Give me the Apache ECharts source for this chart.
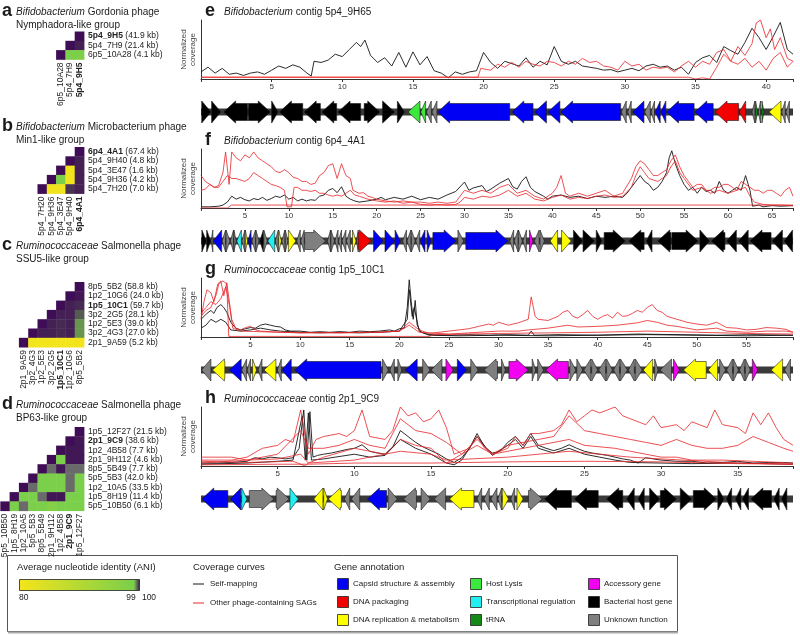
<!DOCTYPE html>
<html><head><meta charset="utf-8">
<script src="https://cdn.jsdelivr.net/npm/echarts@6/dist/echarts.min.js"></script>
<style>html,body{margin:0;padding:0;background:#fff}#c{width:800px;height:635px}</style>
</head><body><div id="c"></div><script>
const FONT = 'Liberation Sans, Arial, Helvetica, sans-serif';
const NA = 0; // no ANI value (grey cell)

// ---------- Heatmap data (rows listed top -> bottom, values from diagonal to the right) ----------
const aNames = ['5p4_9H5','5p4_7H9','6p5_10A28'];
const aSizes = [41.9,21.4,4.1];
const aFocal = '5p4_9H5';
const aANI = [[100],[100,99.9],[100,98.8,98.6]];

const bNames = ['6p4_4A1','5p4_9H40','5p4_3E47','5p4_9H36','5p4_7H20'];
const bSizes = [67.4,4.8,1.6,4.2,7.0];
const bFocal = '6p4_4A1';
const bANI = [[100],[100,99.9],[100,80.8,99.9],[100,98.7,80.8,99.9],[100,80.6,80.9,99.8,99.9]];

const cNames = ['8p5_5B2','1p2_10G6','1p5_10C1','3p2_2G5','1p2_5E3','3p2_4G3','2p1_9A59'];
const cSizes = [58.8,24.0,59.7,28.1,39.0,27.0,5.2];
const cFocal = '1p5_10C1';
const cANI = [[100],[100,99.95],[100,99.9,99.85],[100,99.9,99.9,99.6],[100,99.9,99.85,99.9,99.3],
  [100,99.9,99.9,99.85,99.9,99.3],[100,80.3,80.3,80.3,80.3,80.3,80.5]];

const dNames = ['1p5_12F27','2p1_9C9','1p2_4B58','2p1_9H112','8p5_5B49','5p5_5B3','1p2_10A5','1p5_8H19','5p5_10B50'];
const dSizes = [21.5,38.6,7.7,4.6,7.7,42.0,33.5,11.4,6.1];
const dFocal = '2p1_9C9';
const dANI = [[100],[100,99.95],[100,99.95,99.95],[100,98.9,99.95,99.95],[100,NA,99.95,NA,NA],
  [100,98.9,98.9,98.9,NA,98.9],[100,NA,98.9,98.9,98.9,NA,98.9],[100,98.9,98.9,NA,99.95,99.95,98.9,98.9],
  [100,98.9,NA,98.9,98.9,97.5,98.9,98.9,98.9]];

// ---------- Contig lengths (kb) ----------
const eLen = 41.9, fLen = 67.4, gLen = 59.7, hLen = 38.6;

// ---------- Coverage curves [kb, normalized coverage] ----------
const eBlack = [[0,0.12],[0.5,0.2],[1,0.1],[1.5,0.18],[2,0.08],[2.5,0.1],[3,0.06],[3.5,0.1],[4,0.12],[4.5,0.08],[5,0.15],[5.5,0.22],[6,0.18],[6.5,0.24],[7,0.2],[7.5,0.1],[7.8,0.05],[8,0.3],[8.5,0.28],[9,0.32],[9.5,0.42],[10,0.38],[10.5,0.5],[11,0.62],[11.3,0.55],[11.6,0.66],[12,0.4],[12.5,0.28],[13,0.36],[13.5,0.22],[14,0.45],[14.5,0.2],[15,0.46],[15.5,0.24],[16,0.38],[16.5,0.14],[17,0.1],[17.5,0.02],[18,0.12],[18.5,0.08],[19,0.12],[19.5,0.14],[20,0.45],[20.5,0.28],[21,0.18],[21.5,0.3],[22,0.26],[22.5,0.22],[23,0.36],[23.5,0.2],[24,0.3],[24.5,0.24],[25,0.55],[25.5,0.3],[26,0.25],[26.5,0.3],[27,0.22],[27.5,0.2],[28,0.18],[28.5,0.15],[29,0.16],[29.5,0.12],[30,0.15],[30.5,0.18],[31,0.14],[31.5,0.22],[32,0.25],[32.5,0.2],[33,0.22],[33.5,0.15],[34,0.2],[34.5,0.08],[35,0.28],[35.5,0.36],[36,0.4],[36.5,0.28],[37,0.55],[37.5,0.48],[38,0.42],[38.5,0.62],[39,0.86],[39.5,0.7],[40,0.5],[40.5,0.72],[41,0.96],[41.5,0.5],[41.9,0.42]];
const eRed1 = [[0,0.03],[19.6,0.03],[19.8,0.18],[20.5,0.15],[21,0.25],[21.5,0.2],[22,0.28],[22.5,0.2],[23,0.3],[23.5,0.25],[24,0.22],[24.5,0.3],[25,0.28],[25.5,0.22],[26,0.3],[26.5,0.25],[27,0.35],[27.5,0.28],[28,0.3],[28.5,0.22],[29,0.2],[29.5,0.15],[30,0.3],[30.5,0.22],[31,0.25],[31.5,0.15],[32,0.2],[32.5,0.18],[33,0.2],[33.5,0.12],[34,0.22],[34.5,0.3],[35,0.2],[35.5,0.3],[36,0.25],[36.5,0.45],[37,0.5],[37.5,0.3],[38,0.55],[38.5,0.4],[39,0.6],[39.3,0.95],[39.6,1.0],[40,0.7],[40.3,0.85],[40.6,0.5],[41,0.7],[41.5,0.35],[41.9,0.3]];
const eRed2 = [[0,0.03],[34.5,0.03],[35,0.0],[35.5,0.02],[36,0.0],[36.5,0.2],[37,0.42],[37.5,0.3],[38,0.25],[38.5,0.35],[39,0.2],[39.5,0.3],[40,0.15],[40.5,0.35],[41,0.45],[41.5,0.2],[41.9,0.3]];

const fBlack = [[0,0.02],[1,0.02],[2,0.03],[2.5,0.05],[3,0.1],[3.5,0.2],[4,0.15],[4.5,0.18],[5,0.14],[5.5,0.12],[6,0.16],[6.5,0.14],[7,0.18],[7.5,0.13],[8,0.16],[8.5,0.2],[9,0.18],[9.5,0.22],[10,0.15],[10.5,0.18],[11,0.12],[11.5,0.15],[12,0.12],[12.5,0.14],[13,0.13],[13.5,0.2],[14,0.22],[14.5,0.3],[15,0.33],[15.5,0.26],[16,0.36],[16.5,0.2],[17,0.15],[17.5,0.12],[18,0.1],[19,0.12],[20,0.15],[20.5,0.18],[21,0.14],[22,0.18],[23,0.15],[24,0.2],[25,0.14],[26,0.18],[27,0.15],[28,0.22],[29,0.28],[30,0.44],[30.5,0.3],[31,0.34],[32,0.38],[32.5,0.28],[33,0.32],[34,0.42],[35,0.5],[35.5,0.36],[36,0.32],[36.5,0.45],[37,0.53],[37.5,0.35],[38,0.28],[39,0.2],[39.5,0.15],[40,0.2],[41,0.22],[42,0.18],[43,0.2],[44,0.16],[45,0.2],[46,0.18],[47,0.2],[48,0.18],[48.5,0.25],[49,0.35],[49.5,0.45],[50,0.55],[50.5,0.45],[51,0.4],[51.5,0.3],[52,0.35],[52.5,0.45],[53,0.6],[53.3,0.85],[53.6,0.97],[54,0.75],[54.5,0.55],[55,0.4],[55.5,0.3],[56,0.35],[56.5,0.25],[57,0.35],[57.5,0.28],[58,0.3],[58.5,0.25],[59,0.45],[59.5,0.3],[60,0.25],[60.5,0.3],[61,0.35],[61.5,0.3],[62,0.55],[62.5,0.3],[62.8,0.03],[63.5,0.05],[64,0.02],[65,0.04],[66,0.03],[67.4,0.04]];
const fRed1 = [[0,0.55],[0.5,0.45],[1,0.4],[1.5,0.35],[2,0.38],[2.5,0.6],[2.8,0.95],[3.2,0.4],[3.5,0.95],[4,0.85],[4.5,0.8],[5,0.9],[5.5,0.85],[6,0.95],[6.5,0.85],[7,0.8],[7.5,0.75],[8,0.7],[8.5,0.62],[9,0.6],[9.5,0.65],[10,0.6],[10.5,0.52],[11,0.5],[11.5,0.45],[12,0.45],[12.5,0.4],[13,0.42],[13.5,0.55],[14,0.6],[14.5,0.72],[15,0.75],[15.5,0.5],[16,0.75],[16.5,0.55],[17,0.5],[17.3,0.3],[18,0.25],[18.5,0.26],[19,0.2],[19.5,0.18],[20,0.15],[21,0.12],[22,0.1],[23,0.12],[24,0.1],[25,0.1],[26,0.08],[27,0.1],[28,0.08],[29,0.1],[29.5,0.2],[30,0.3],[31,0.25],[32,0.3],[33,0.25],[34,0.35],[35,0.4],[36,0.25],[37,0.3],[38,0.2],[39,0.15],[40,0.25],[40.5,0.35],[41,0.55],[41.5,0.25],[42,0.2],[43,0.25],[44,0.2],[45,0.25],[46,0.3],[47,0.2],[48,0.25],[49,0.5],[49.5,0.7],[50,0.8],[50.5,0.75],[51,0.65],[51.5,0.55],[52,0.55],[52.5,0.6],[53,0.65],[53.5,0.8],[54,0.9],[54.5,0.7],[55,0.55],[55.5,0.45],[56,0.35],[56.5,0.4],[57,0.4],[57.5,0.3],[58,0.3],[58.5,0.35],[59,0.35],[59.5,0.4],[60,0.4],[60.5,0.35],[61,0.3],[61.5,0.45],[62,0.4],[62.5,0.35],[63,0.3],[63.5,0.3],[64,0.25],[64.5,0.3],[65,0.3],[65.5,0.25],[66,0.2],[66.5,0.3],[67,0.35],[67.4,0.2]];
const fRed2 = [[0,0.3],[0.5,0.32],[1,0.4],[1.5,0.35],[2,0.35],[2.5,0.45],[3,0.55],[3.5,0.5],[4,0.5],[5,0.45],[5.5,0.5],[6,0.6],[6.5,0.55],[7,0.5],[7.5,0.45],[8,0.4],[8.5,0.38],[9,0.35],[9.5,0.3],[9.8,0.02],[10.3,0.02],[10.6,0.35],[11,0.35],[11.5,0.3],[12,0.3],[12.5,0.28],[13,0.3],[13.5,0.25],[14,0.25],[14.5,0.22],[15,0.2],[15.5,0.22],[16,0.2],[16.5,0.25],[17,0.3],[17.5,0.22],[18,0.2],[19,0.15],[20,0.12],[21,0.1],[22,0.12],[23,0.08],[24,0.1],[25,0.06],[26,0.05],[27,0.06],[28,0.05],[29,0.06],[29.5,0.1],[30,0.18],[31,0.15],[32,0.2],[33,0.18],[34,0.22],[35,0.3],[36,0.2],[37,0.25],[38,0.15],[39,0.12],[40,0.18],[41,0.22],[42,0.15],[43,0.18],[44,0.16],[45,0.2],[46,0.22],[47,0.18],[48,0.2],[49,0.35],[49.5,0.55],[50,0.7],[50.5,0.6],[51,0.5],[52,0.45],[53,0.55],[53.5,0.7],[54,0.8],[54.5,0.6],[55,0.5],[56,0.3],[57,0.35],[58,0.25],[59,0.3],[60,0.25],[61,0.3],[62,0.35],[62.5,0.2],[63,0.1],[64,0.06],[65,0.05],[66,0.05],[67.4,0.04]];
const fRed3 = [[0,0.0],[3,0.0],[3.5,0.05],[67.4,0.05]];

const gBlack1 = [[0,0.3],[0.3,0.35],[0.6,0.4],[1,0.45],[1.3,0.4],[1.6,0.5],[2,0.55],[2.3,0.5],[2.6,0.42],[3,0.25],[3.5,0.15],[4,0.12],[4.5,0.14],[5,0.16],[5.5,0.15],[6,0.2],[6.5,0.22],[7,0.2],[7.5,0.18],[8,0.17],[8.5,0.12],[9,0.1],[10,0.1],[11,0.08],[12,0.09],[13,0.08],[14,0.09],[15,0.08],[16,0.1],[17,0.09],[18,0.1],[19,0.12],[19.5,0.1],[20,0.14],[20.5,0.15],[20.8,0.5],[21,0.97],[21.2,0.6],[21.4,0.3],[21.6,0.62],[21.8,0.2],[22.2,0.08],[23,0.04],[25,0.03],[27,0.04],[29,0.03],[31,0.04],[33,0.03],[33.3,0.1],[33.6,0.03],[36,0.04],[40,0.03],[44,0.05],[48,0.04],[52,0.03],[56,0.04],[59.7,0.03]];
const gBlack2 = [[0,0.15],[0.5,0.2],[1,0.3],[1.5,0.25],[2,0.3],[2.5,0.25],[3,0.12],[4,0.1],[5,0.12],[6,0.15],[7,0.12],[8,0.1],[10,0.08],[12,0.07],[14,0.08],[16,0.07],[18,0.08],[20,0.1],[20.8,0.3],[21,0.8],[21.3,0.35],[21.5,0.5],[22,0.1],[23,0.03],[26,0.02],[30,0.03],[35,0.02],[40,0.03],[45,0.04],[50,0.03],[55,0.02],[59.7,0.03]];
const gRed1 = [[0,0.3],[0.3,0.6],[0.6,0.8],[1,0.75],[1.3,0.6],[1.7,0.9],[2,0.95],[2.3,0.7],[2.6,0.92],[2.8,0.95],[3.1,0.3],[3.5,0.15],[4,0.12],[4.5,0.16],[5,0.18],[5.5,0.12],[6,0.1],[7,0.09],[8,0.08],[9,0.08],[10,0.07],[12,0.08],[14,0.07],[16,0.08],[18,0.08],[20,0.1],[21,0.25],[22,0.12],[23,0.06],[24,0.08],[25,0.1],[26,0.12],[27,0.14],[28,0.18],[29,0.22],[29.5,0.2],[30,0.25],[31,0.2],[32,0.24],[33,0.3],[33.3,0.68],[33.7,0.35],[34,0.3],[35,0.28],[36,0.35],[36.5,0.42],[37,0.45],[37.5,0.35],[38,0.32],[38.5,0.38],[39,0.45],[39.5,0.35],[40,0.3],[40.5,0.35],[41,0.38],[41.5,0.32],[42,0.42],[42.5,0.35],[43,0.36],[43.5,0.4],[44,0.45],[44.5,0.42],[45,0.5],[45.5,0.55],[46,0.45],[46.5,0.42],[47,0.35],[48,0.3],[49,0.25],[50,0.22],[51,0.2],[52,0.25],[53,0.16],[54,0.15],[55,0.12],[56,0.13],[57,0.16],[58,0.15],[59,0.13],[59.7,0.08]];
const gRed2 = [[0,0.4],[0.5,0.5],[1,0.6],[1.5,0.55],[2,0.65],[2.5,0.85],[2.9,0.5],[3.2,0.15],[4,0.1],[6,0.09],[8,0.08],[10,0.07],[14,0.07],[18,0.08],[20,0.1],[21,0.2],[22,0.08],[25,0.05],[27,0.07],[30,0.1],[32,0.1],[33,0.12],[35,0.15],[37,0.2],[38,0.17],[40,0.18],[42,0.2],[44,0.24],[45,0.28],[46,0.25],[47,0.2],[48,0.18],[50,0.12],[52,0.15],[53,0.1],[55,0.08],[57,0.1],[59,0.1],[59.7,0.08]];
const gRed3 = [[0,0.35],[0.5,0.45],[1,0.5],[1.5,0.7],[1.8,0.9],[2.2,0.95],[2.6,0.9],[2.8,0.01],[23,0.01],[23.5,0.04],[30,0.06],[35,0.07],[40,0.08],[45,0.1],[50,0.08],[55,0.06],[59.7,0.05]];

const hBlack1 = [[0,0.05],[1,0.05],[2,0.06],[3,0.08],[3.5,0.14],[4,0.12],[4.5,0.15],[5,0.14],[5.5,0.12],[6,0.14],[6.4,0.3],[6.7,0.95],[6.9,0.1],[7.1,0.92],[7.3,0.15],[7.6,0.18],[8,0.2],[8.5,0.22],[9,0.25],[9.5,0.28],[10,0.3],[10.5,0.36],[11,0.25],[11.5,0.22],[12,0.2],[12.5,0.32],[13,0.6],[13.5,0.5],[14,0.4],[14.5,0.32],[15,0.26],[15.5,0.2],[16,0.12],[16.5,0.06],[17,0.14],[17.5,0.3],[18,0.55],[18.5,0.32],[19,0.22],[19.5,0.25],[20,0.4],[20.5,0.5],[21,0.35],[21.5,0.55],[22,0.35],[22.5,0.3],[23,0.26],[23.5,0.3],[24,0.36],[24.5,0.3],[25,0.25],[25.5,0.22],[26,0.2],[26.5,0.18],[27,0.15],[27.5,0.12],[28,0.1],[28.5,0.05],[29,0.14],[29.5,0.12],[30,0.1],[31,0.08],[32,0.08],[33,0.05],[34,0.06],[35,0.08],[36,0.05],[37,0.06],[38,0.06],[38.6,0.05]];
const hBlack2 = [[0,0.03],[3,0.05],[5,0.08],[6,0.1],[6.6,0.85],[6.8,0.1],[7,0.9],[7.2,0.1],[8,0.12],[10,0.2],[11,0.15],[12,0.18],[13,0.45],[14,0.3],[15,0.2],[16,0.05],[16.5,0.02],[17,0.1],[18,0.5],[19,0.18],[20,0.35],[20.5,0.45],[21,0.3],[21.5,0.5],[22,0.3],[23,0.22],[24,0.3],[25,0.2],[26,0.15],[27,0.1],[28,0.06],[30,0.05],[32,0.04],[35,0.05],[38.6,0.03]];
const hRed1 = [[0,0.1],[2,0.1],[3,0.15],[4,0.3],[5,0.35],[5.5,0.45],[6,0.4],[6.5,0.95],[7,0.2],[7.5,0.45],[8,0.5],[9,0.55],[9.5,0.5],[10,0.6],[10.5,0.95],[11,0.5],[12,0.45],[12.5,0.6],[13,1.0],[13.5,0.85],[14,0.9],[14.5,0.75],[15,0.8],[15.5,0.95],[16,0.65],[16.5,0.2],[17,0.25],[17.5,0.3],[18,0.5],[18.5,0.3],[19,0.2],[20,0.3],[20.5,0.5],[21,0.35],[21.5,0.55],[22,0.55],[23,0.6],[23.5,0.7],[24,0.95],[24.5,0.75],[25,0.85],[25.5,0.95],[26,0.9],[26.5,0.95],[27,1.0],[27.5,0.85],[28,0.8],[29,0.7],[29.5,0.85],[30,0.65],[31,0.7],[31.5,0.6],[32,0.75],[33,0.65],[33.5,0.95],[34,0.7],[35,0.65],[35.5,0.55],[36,0.9],[36.5,0.7],[37,0.9],[37.5,0.65],[38,0.45],[38.6,0.35]];
const hRed2 = [[0,0.05],[3,0.1],[5,0.2],[6.5,0.6],[7,0.3],[8,0.3],[9,0.35],[10,0.45],[11,0.35],[12,0.3],[13,0.8],[14,0.6],[15,0.55],[16,0.4],[17,0.2],[18,0.45],[19,0.2],[20,0.35],[21,0.4],[22,0.45],[23,0.5],[24,0.85],[25,0.6],[26,0.55],[27,0.5],[28,0.45],[29,0.4],[30,0.35],[31,0.45],[32,0.35],[33,0.3],[34,0.3],[35,0.35],[36,0.5],[37,0.4],[38,0.3],[38.6,0.25]];
const hRed3 = [[0,0.15],[2,0.15],[3,0.1],[5,0.12],[6.5,0.2],[7,0.05],[8,0.15],[10,0.3],[12,0.2],[13,0.45],[14,0.35],[15,0.3],[16,0.05],[18,0.35],[19,0.2],[20,0.25],[21,0.3],[22,0.35],[24,0.45],[25,0.35],[27,0.3],[28,0.25],[29,0.2],[30,0.15],[31,0.15],[32,0.1],[34,0.1],[36,0.08],[38.6,0.05]];
const hRed4 = [[0,0.02],[5,0.03],[7,0.03],[10,0.05],[15,0.05],[20,0.07],[25,0.08],[30,0.07],[35,0.04],[38.6,0.03]];
const hRed5 = [[0,0.08],[3,0.06],[6,0.08],[6.8,0.0],[7,0.05],[10,0.1],[13,0.25],[15,0.2],[16,0.1],[20,0.15],[24,0.25],[28,0.15],[30,0.12],[35,0.05],[38.6,0.03]];

// ---------- Genes [start kb, end kb, strand, type] ----------
// C capsid, P DNA packaging, R DNA replication, L host lysis, T transcriptional reg., N tRNA, A accessory, B bacterial host, U unknown
const eGenes = [[0.05,0.7,1,'B'],[0.75,1.4,1,'B'],[1.6,3.3,-1,'B'],[3.35,4.9,1,'B'],[5.0,5.45,1,'B'],[5.55,7.2,-1,'B'],[7.3,8.45,-1,'B'],[8.55,9.6,-1,'B'],[9.7,11.3,-1,'B'],[11.55,12.65,1,'B'],[12.85,13.7,1,'B'],[13.9,14.4,1,'B'],
 [14.65,15.5,-1,'L'],[15.55,15.9,-1,'L'],[15.95,16.3,-1,'U'],[16.35,16.7,-1,'U'],[16.75,21.85,-1,'C'],[22.0,23.5,-1,'C'],[23.6,24.45,-1,'C'],[24.55,25.4,-1,'C'],[25.45,29.7,-1,'C'],[29.75,30.1,-1,'U'],[30.2,30.45,-1,'U'],[30.55,31.35,-1,'C'],[31.4,31.8,-1,'U'],[31.85,32.1,-1,'U'],[32.15,32.5,-1,'C'],[32.55,32.9,-1,'C'],[32.95,34.9,-1,'C'],[34.95,36.25,-1,'C'],[36.38,38.05,-1,'P'],[38.1,38.55,-1,'P'],[39.0,39.2,-1,'U'],[39.25,39.4,1,'N'],[39.45,39.6,-1,'U'],[39.7,39.85,1,'N'],[40.2,41.05,-1,'R'],[41.1,41.35,-1,'U'],[41.4,41.65,-1,'U']];
const fGenes = [[0.1,0.6,1,'B'],[0.65,1.1,1,'B'],[1.15,1.35,-1,'U'],[1.4,2.35,-1,'C'],[2.4,2.8,-1,'U'],[2.85,3.3,1,'U'],[3.35,3.7,-1,'U'],[3.75,4.0,1,'U'],[4.07,4.6,-1,'T'],[4.65,5.0,-1,'U'],[5.05,5.3,1,'R'],[5.35,5.7,-1,'C'],[5.8,6.2,-1,'U'],[6.25,6.6,1,'U'],[6.7,7.1,-1,'B'],[7.15,7.55,1,'U'],[7.6,8.4,-1,'T'],[8.45,8.8,-1,'U'],[8.85,9.15,1,'R'],[9.2,9.55,-1,'U'],[9.6,9.9,1,'U'],[9.95,10.8,1,'R'],[10.9,11.3,-1,'U'],[11.35,11.75,-1,'U'],[11.8,14.2,1,'U'],[14.4,14.75,-1,'U'],[14.8,15.2,1,'U'],[15.25,15.6,-1,'U'],[15.65,16.0,-1,'U'],[16.05,16.5,-1,'U'],[16.55,17.0,-1,'U'],[17.25,17.65,1,'R'],[17.7,17.9,-1,'U'],[17.9,19.4,1,'P'],[19.65,20.75,1,'C'],[20.95,22.05,1,'C'],[22.1,22.7,1,'C'],[22.95,23.4,-1,'U'],[23.45,23.9,-1,'U'],[23.95,24.4,1,'U'],[24.45,24.9,-1,'U'],[24.95,25.5,-1,'C'],[25.75,26.2,1,'C'],[26.4,29.05,1,'C'],[29.25,29.9,1,'U'],[30.15,34.95,1,'C'],[35.15,35.6,-1,'U'],[35.65,36.1,-1,'U'],[36.15,36.6,1,'U'],[36.65,37.05,-1,'U'],[37.4,37.8,1,'A'],[37.95,38.5,-1,'U'],[38.6,39.1,1,'U'],[39.75,40.6,-1,'R'],[41.05,42.15,1,'R'],[42.4,43.45,1,'B'],[43.5,44.8,1,'B'],[45.0,45.65,1,'B'],[45.9,48.3,1,'B'],[48.7,50.45,-1,'B'],[50.7,51.35,-1,'B'],[52.0,53.5,-1,'B'],[53.6,56.6,1,'B'],[56.8,57.9,1,'B'],[58.1,59.65,-1,'B'],[59.85,60.95,-1,'B'],[61.2,62.3,-1,'B'],[62.5,64.9,-1,'B'],[65.0,66.2,-1,'B'],[66.4,67.35,-1,'B']];
const gGenes = [[0.05,1.0,-1,'U'],[1.15,2.4,-1,'R'],[2.85,4.05,-1,'C'],[4.1,4.6,-1,'U'],[4.65,5.0,-1,'U'],[5.2,5.6,1,'R'],[5.75,6.15,-1,'U'],[6.35,7.55,-1,'R'],[7.7,8.1,-1,'U'],[8.15,9.1,-1,'C'],[9.45,18.15,-1,'C'],[18.3,18.9,1,'U'],[19.05,19.5,-1,'U'],[19.85,20.25,1,'U'],[20.6,21.8,-1,'C'],[22.35,23.1,1,'U'],[23.2,24.3,-1,'U'],[24.7,25.45,1,'A'],[25.85,26.8,1,'C'],[27.2,27.95,1,'U'],[28.55,29.9,-1,'U'],[30.3,30.7,1,'U'],[31.05,33.0,1,'A'],[33.4,33.75,1,'U'],[33.95,34.55,1,'U'],[34.75,37.05,-1,'A'],
 [37.2,37.8,1,'U'],[37.9,38.5,1,'U'],[38.6,39.3,-1,'U'],[39.4,40.0,1,'U'],[40.1,40.8,-1,'U'],[40.9,41.5,1,'U'],[41.6,42.2,-1,'U'],[42.3,43.0,1,'U'],[43.1,43.7,-1,'U'],[43.8,44.5,1,'U'],
 [44.6,45.55,-1,'R'],[45.75,46.1,1,'U'],[46.3,47.45,-1,'U'],[47.65,48.25,1,'A'],[48.65,50.95,-1,'R'],[51.15,52.1,-1,'R'],[52.3,52.9,1,'U'],[53.0,53.6,-1,'U'],[53.7,54.2,1,'U'],[54.3,54.8,-1,'U'],[54.9,55.4,1,'U'],[55.6,56.15,1,'A'],[57.5,58.65,-1,'R'],[58.85,59.45,-1,'U']];
const hGenes = [[0.05,1.75,-1,'C'],[1.9,2.6,-1,'C'],[2.65,3.0,1,'T'],[3.15,4.75,1,'U'],[4.9,5.75,1,'U'],[5.8,6.35,1,'T'],[7.35,7.95,-1,'R'],[8.0,8.25,1,'R'],[8.3,9.15,-1,'R'],[9.35,9.7,-1,'U'],[9.8,10.35,-1,'U'],[10.85,12.1,-1,'C'],[12.2,12.8,1,'U'],[13.2,14.05,-1,'U'],[14.35,14.95,1,'U'],[15.2,15.95,-1,'U'],[16.2,17.8,-1,'R'],[18.0,18.3,-1,'U'],[18.45,18.8,-1,'U'],[18.9,19.3,-1,'U'],[19.35,19.6,-1,'U'],[19.65,20.05,1,'R'],[20.2,20.45,-1,'U'],[20.6,21.0,1,'R'],[21.35,22.25,1,'U'],[22.4,24.15,-1,'B'],[24.35,25.9,-1,'B'],[26.45,27.5,-1,'B'],[27.75,28.25,-1,'B'],[28.5,28.9,-1,'B'],[29.25,29.9,1,'B'],[29.95,31.0,1,'B'],[31.25,32.0,1,'B'],[32.1,33.6,1,'B'],[33.7,34.1,1,'B'],[34.25,34.6,-1,'B'],[34.85,35.2,-1,'B'],[35.3,35.7,-1,'B'],[35.85,37.2,-1,'B'],[37.35,37.7,-1,'B'],[37.85,38.2,-1,'B']];

// ---------- Legend labels ----------
const geneTypes = ['C','P','R','L','T','N','A','B','U'];
const geneLabels = ['Capsid structure & assembly','DNA packaging','DNA replication & metabolism','Host Lysis','Transcriptional regulation','tRNA','Accessory gene','Bacterial host gene','Unknown function'];
const aniTicks = ['80','99','100'];

// ---------- Styles ----------
const TYPE_COLORS = {C:'#0000f5',P:'#f50000',R:'#ffff00',L:'#3be83b',T:'#22f0f0',N:'#168a16',A:'#f200f2',B:'#000000',U:'#7f7f7f'};
const YEL=[245,229,27], GRN=[122,207,74], PURC=[62,13,86], NA_COLOR='#6a6a6a';
function mix(a,b,t){return 'rgb('+a.map((v,i)=>Math.round(v+(b[i]-v)*t)).join(',')+')';}
function aniColor(v){
  if(v<80) return NA_COLOR;
  if(v<=99) return mix(YEL,GRN,(v-80)/19);
  return mix(GRN,PURC,Math.min(1,v-99));
}

const heatPanels = [
 {names:aNames,sizes:aSizes,focal:aFocal,ani:aANI,top:31.5},
 {names:bNames,sizes:bSizes,focal:bFocal,ani:bANI,top:147},
 {names:cNames,sizes:cSizes,focal:cFocal,ani:cANI,top:282},
 {names:dNames,sizes:dSizes,focal:dFocal,ani:dANI,top:427}
];
const covPanels = [
 {len:eLen,black:[eBlack],red:[eRed1,eRed2],genes:eGenes,T:12,letter:'e',genus:'Bifidobacterium',contig:'5p4_9H65'},
 {len:fLen,black:[fBlack],red:[fRed1,fRed2,fRed3],genes:fGenes,T:141,letter:'f',genus:'Bifidobacterium',contig:'6p4_4A1'},
 {len:gLen,black:[gBlack1,gBlack2],red:[gRed1,gRed2,gRed3],genes:gGenes,T:270,letter:'g',genus:'Ruminococcaceae',contig:'1p5_10C1'},
 {len:hLen,black:[hBlack1,hBlack2],red:[hRed1,hRed2,hRed3,hRed4,hRed5],genes:hGenes,T:399,letter:'h',genus:'Ruminococcaceae',contig:'2p1_9C9'}
];
const CELL=9.3, HM_RIGHT=84;

const grid=[], xAxis=[], yAxis=[], series=[];

function renderCell(params, api){
  const c=api.coord([api.value(0),api.value(1)]), s=api.size([1,1]);
  return {type:'rect',shape:{x:c[0]-s[0]/2,y:c[1]-s[1]/2,width:s[0]+0.4,height:s[1]+0.4},style:{fill:aniColor(api.value(2))}};
}
heatPanels.forEach((p,i)=>{
  const n=p.names.length, s=n*CELL;
  grid.push({left:HM_RIGHT-s, top:p.top, width:s, height:s});
  const rich={b:{fontWeight:'bold',fontSize:8.5,color:'#222',fontFamily:FONT}};
  xAxis.push({type:'category',gridIndex:i,data:p.names.slice().reverse(),axisLine:{show:false},axisTick:{show:false},splitLine:{show:false},
    axisLabel:{interval:0,rotate:90,fontSize:8.5,color:'#222',margin:3,fontFamily:FONT,formatter:v=>v===p.focal?'{b|'+v+'}':v,rich}});
  yAxis.push({type:'category',gridIndex:i,data:p.names,inverse:true,position:'right',axisLine:{show:false},axisTick:{show:false},splitLine:{show:false},
    axisLabel:{interval:0,fontSize:8.5,color:'#222',margin:4,fontFamily:FONT,
      formatter:(v,idx)=>(v===p.focal?'{b|'+v+'}':v)+' ('+p.sizes[idx].toFixed(1)+' kb)',rich}});
  const data=[];
  p.ani.forEach((row,r)=>row.forEach((v,k)=>data.push([n-1-r+k,r,v])));
  series.push({type:'custom',xAxisIndex:i,yAxisIndex:i,renderItem:renderCell,data,silent:true,encode:{x:0,y:1}});
});

function renderGene(params, api){
  const a=api.coord([api.value(0),0]), b=api.coord([api.value(1),0]);
  const dir=api.value(2), y=a[1], H=11, h=8.5;
  const x0=Math.min(a[0],b[0]), x1=Math.max(a[0],b[0]), w=x1-x0, hl=Math.min(w,12);
  let pts;
  if(dir>0) pts=[[x0,y-h],[x1-hl,y-h],[x1-hl,y-H],[x1,y],[x1-hl,y+H],[x1-hl,y+h],[x0,y+h]];
  else pts=[[x1,y-h],[x0+hl,y-h],[x0+hl,y-H],[x0,y],[x0+hl,y+H],[x0+hl,y+h],[x1,y+h]];
  return {type:'polygon',shape:{points:pts},style:{fill:api.visual('color'),stroke:'#1a1a1a',lineWidth:0.6}};
}
function renderBackbone(params, api){
  const a=api.coord([api.value(0),0]), b=api.coord([api.value(1),0]);
  return {type:'rect',shape:{x:a[0],y:a[1]-3.5,width:b[0]-a[0],height:7},style:{fill:'#3a3a3a'}};
}

covPanels.forEach((p,i)=>{
  const gi=4+i;
  grid.push({left:201,width:592,top:p.T+8,height:59});
  xAxis.push({type:'value',gridIndex:gi,min:0,max:p.len,interval:5,splitLine:{show:false},
    axisLine:{show:true,lineStyle:{color:'#333',width:1}},axisTick:{show:true,length:3,lineStyle:{color:'#333'}},
    axisLabel:{fontSize:8,color:'#333',margin:4,fontFamily:FONT,formatter:v=>(v>0&&v%5===0)?String(v):''}});
  yAxis.push({type:'value',gridIndex:gi,min:0,max:1,splitLine:{show:false},axisLine:{show:true,lineStyle:{color:'#333',width:1}},
    axisTick:{show:false},axisLabel:{show:false},name:'Normalized\ncoverage',nameLocation:'middle',nameGap:4,nameRotate:90,
    nameTextStyle:{fontSize:8,color:'#444',lineHeight:9,fontFamily:FONT}});
  p.black.forEach(d=>series.push({type:'line',xAxisIndex:gi,yAxisIndex:gi,data:d,showSymbol:false,symbol:'none',silent:true,
    lineStyle:{color:'#151515',width:0.9},z:3}));
  p.red.forEach(d=>series.push({type:'line',xAxisIndex:gi,yAxisIndex:gi,data:d,showSymbol:false,symbol:'none',silent:true,
    lineStyle:{color:'#e8262a',width:0.9,opacity:0.9},z:4}));
});
covPanels.forEach((p,i)=>{
  const gg=8+i;
  grid.push({left:201,width:592,top:p.T+88,height:24});
  xAxis.push({type:'value',gridIndex:gg,min:0,max:p.len,show:false});
  yAxis.push({type:'value',gridIndex:gg,min:-1,max:1,show:false});
  series.push({type:'custom',xAxisIndex:gg,yAxisIndex:gg,renderItem:renderBackbone,data:[[0,p.len]],encode:{x:[0,1]},silent:true,clip:false,z:1});
  series.push({type:'custom',xAxisIndex:gg,yAxisIndex:gg,renderItem:renderGene,silent:true,clip:false,z:2,encode:{x:[0,1]},
    data:p.genes.map(g=>({value:[g[0],g[1],g[2]],itemStyle:{color:TYPE_COLORS[g[3]]}}))});
});

// ---------- graphic: titles and legend ----------
function txt(x,y,text,size,extra){
  return {type:'text',x,y,silent:true,style:Object.assign({text,fill:'#1a1a1a',fontSize:size,fontFamily:FONT,
    align:'left',verticalAlign:'middle',textAlign:'left',textVerticalAlign:'middle',
    rich:{i:{fontStyle:'italic',fontSize:size,fontFamily:FONT,fill:'#1a1a1a'}}},extra||{})};
}
const graphic=[];
const leftTitles=[['a',12,'{i|Bifidobacterium} Gordonia phage','Nymphadora-like group'],
  ['b',127,'{i|Bifidobacterium} Microbacterium phage','Min1-like group'],
  ['c',246,'{i|Ruminococcaceae} Salmonella phage','SSU5-like group'],
  ['d',405,'{i|Ruminococcaceae} Salmonella phage','BP63-like group']];
leftTitles.forEach(t=>{
  graphic.push(txt(2,t[1]-1,t[0],18,{fontWeight:'bold'}));
  graphic.push(txt(16,t[1],t[2],10));
  graphic.push(txt(16,t[1]+13,t[3],10));
});
covPanels.forEach(p=>{
  graphic.push(txt(205,p.T-1,p.letter,18,{fontWeight:'bold'}));
  graphic.push(txt(224,p.T,'{i|'+p.genus+'} contig '+p.contig,10));
});
// legend box
graphic.push({type:'rect',silent:true,shape:{x:7.5,y:555.5,width:670,height:76},style:{fill:'none',stroke:'#555',lineWidth:1}});
graphic.push({type:'rect',silent:true,shape:{x:8,y:631.5,width:670,height:2},style:{fill:'#aaa'}});
graphic.push(txt(17,567,'Average nucleotide identity (ANI)',9.5));
graphic.push(txt(193,567,'Coverage curves',9.5));
graphic.push(txt(334,567,'Gene annotation',9.5));
const stops=[]; for(let k=0;k<=20;k++) stops.push({offset:k/20,color:aniColor(80+k)});
graphic.push({type:'rect',silent:true,shape:{x:19.5,y:579.5,width:120,height:11},
  style:{fill:new echarts.graphic.LinearGradient(0,0,1,0,stops),stroke:'#222',lineWidth:0.8}});
graphic.push(txt(19,598,aniTicks[0],8.5));
graphic.push(txt(131,598,aniTicks[1],8.5,{align:'center',textAlign:'center'}));
graphic.push(txt(149,598,aniTicks[2],8.5,{align:'center',textAlign:'center'}));
graphic.push({type:'line',silent:true,shape:{x1:193,y1:584,x2:204,y2:584},style:{stroke:'#151515',lineWidth:1}});
graphic.push(txt(210,584,'Self-mapping',8));
graphic.push({type:'line',silent:true,shape:{x1:193,y1:603,x2:204,y2:603},style:{stroke:'#e8262a',lineWidth:1}});
graphic.push(txt(210,603,'Other phage-containing SAGs',8));
const colX=[[337,353],[470,486],[588,604]], rowY=[584,602,620];
geneTypes.forEach((t,k)=>{
  const c=Math.floor(k/3), r=k%3;
  graphic.push({type:'rect',silent:true,shape:{x:colX[c][0]+0.5,y:rowY[r]-5.5,width:11,height:11},style:{fill:TYPE_COLORS[t],stroke:'#222',lineWidth:0.8}});
  graphic.push(txt(colX[c][1],rowY[r],geneLabels[k],8));
});

const chart=echarts.init(document.getElementById('c'),null,{renderer:'canvas'});
chart.setOption({
  animation:false, backgroundColor:'#fff',
  textStyle:{fontFamily:FONT},
  grid, xAxis, yAxis, series, graphic
});
</script></body></html>
